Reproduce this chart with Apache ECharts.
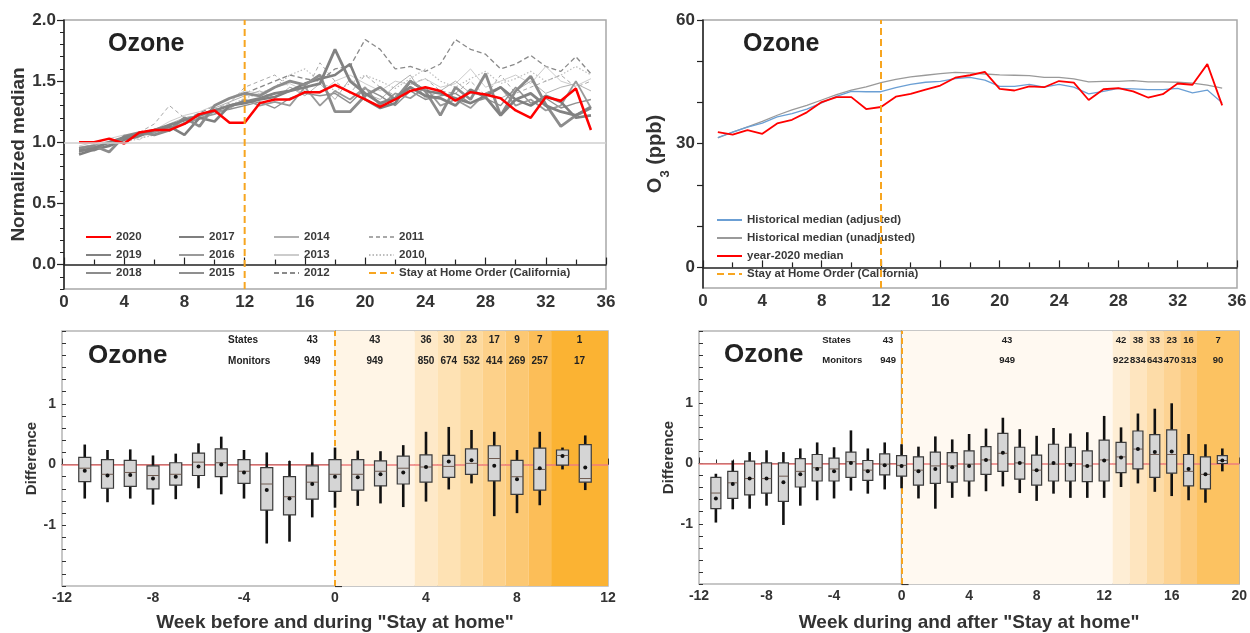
<!DOCTYPE html>
<html><head><meta charset="utf-8">
<script src="https://cdn.jsdelivr.net/npm/echarts@6/dist/echarts.min.js"></script>
<style>html,body{margin:0;padding:0;background:#fff}#c{width:1250px;height:633px}</style>
</head><body><div id="c"></div>
<script>
// ---------- DATA ----------
const weeks = [1,2,3,4,5,6,7,8,9,10,11,12,13,14,15,16,17,18,19,20,21,22,23,24,25,26,27,28,29,30,31,32,33,34,35];
const stayWeek = 12;
const norm2020 = [1.0,1.0,1.03,0.99,1.08,1.1,1.1,1.15,1.23,1.26,1.16,1.16,1.32,1.35,1.35,1.41,1.41,1.47,1.41,1.35,1.29,1.35,1.42,1.45,1.42,1.34,1.41,1.39,1.36,1.26,1.20,1.37,1.34,1.44,1.10];
const norm2019 = [0.93,0.95,1.0,1.04,1.07,1.1,1.14,1.18,1.22,1.26,1.3,1.33,1.36,1.4,1.42,1.45,1.48,1.76,1.5,1.4,1.32,1.36,1.45,1.38,1.36,1.3,1.43,1.37,1.22,1.35,1.4,1.3,1.25,1.22,1.28];
const norm2018 = [0.95,0.97,0.92,1.05,1.08,1.06,1.1,1.2,1.13,1.3,1.36,1.4,1.38,1.45,1.5,1.47,1.55,1.25,1.25,1.38,1.45,1.35,1.5,1.42,1.22,1.45,1.35,1.56,1.22,1.42,1.54,1.31,1.13,1.22,1.29];
const norm2017 = [0.9,0.94,0.97,1.02,1.05,1.1,1.13,1.06,1.2,1.17,1.3,1.32,1.35,1.37,1.42,1.48,1.52,1.55,1.64,1.35,1.28,1.32,1.5,1.42,1.4,1.36,1.32,1.38,1.45,1.35,1.3,1.38,1.33,1.2,1.22];
const norm2016 = [0.92,0.96,1.0,1.03,1.06,1.08,1.12,1.15,1.2,1.23,1.28,1.35,1.3,1.33,1.3,1.45,1.3,1.42,1.35,1.45,1.3,1.4,1.36,1.45,1.3,1.35,1.28,1.4,1.45,1.3,1.35,1.26,1.3,1.5,1.28];
const norm2015 = [0.94,0.93,0.98,1.02,1.07,1.1,1.09,1.16,1.19,1.25,1.27,1.3,1.33,1.28,1.36,1.4,1.38,1.4,1.32,1.44,1.38,1.3,1.42,1.35,1.38,1.4,1.32,1.36,1.3,1.45,1.32,1.36,1.28,1.32,1.35];
const norm2014 = [0.96,0.98,1.01,1.04,1.05,1.08,1.15,1.2,1.22,1.28,1.33,1.38,1.42,1.36,1.45,1.38,1.48,1.35,1.52,1.4,1.35,1.46,1.55,1.36,1.42,1.5,1.4,1.38,1.36,1.42,1.5,1.4,1.45,1.48,1.42];
const norm2013 = [0.97,1.0,1.03,1.06,1.02,1.1,1.17,1.22,1.25,1.3,1.36,1.42,1.4,1.45,1.48,1.42,1.4,1.5,1.55,1.48,1.42,1.5,1.47,1.52,1.45,1.48,1.6,1.45,1.5,1.55,1.48,1.62,1.5,1.46,1.52];
const norm2012 = [0.95,0.98,1.0,1.03,1.06,1.1,1.14,1.18,1.24,1.3,1.36,1.4,1.45,1.5,1.55,1.52,1.5,1.6,1.62,1.84,1.76,1.6,1.62,1.58,1.64,1.84,1.76,1.72,1.6,1.64,1.71,1.62,1.58,1.7,1.56];
const norm2011 = [0.93,0.96,0.99,1.02,1.08,1.15,1.3,1.2,1.22,1.27,1.32,1.45,1.5,1.55,1.45,1.4,1.65,1.5,1.4,1.55,1.45,1.38,1.48,1.52,1.42,1.4,1.5,1.38,1.55,1.4,1.45,1.5,1.55,1.45,1.5];
const norm2010 = [0.92,0.95,0.97,1.0,1.03,1.06,1.12,1.16,1.2,1.25,1.3,1.36,1.4,1.45,1.55,1.6,1.5,1.42,1.48,1.55,1.5,1.44,1.52,1.6,1.5,1.45,1.52,1.58,1.48,1.52,1.58,1.5,1.55,1.62,1.55];

const o3Median2020 = [32.8,32.2,33.3,32.4,34.9,35.8,37.6,40.1,41.3,41.3,38.4,38.9,41.4,42.1,43.1,44.1,46.0,46.6,47.4,43.3,42.9,43.9,43.7,45.2,44.8,40.6,43.2,43.5,42.7,41.2,42.0,44.6,44.3,49.3,39.3];
const o3HistAdjusted = [31.5,32.8,34.0,35.0,36.5,37.3,38.4,39.9,41.5,42.7,42.6,42.6,43.6,44.4,44.9,45.1,45.8,46.1,45.4,43.9,43.9,44.4,43.7,44.4,43.7,42.1,42.7,43.4,43.3,43.1,43.1,43.4,42.3,43.0,39.9];
const o3HistUnadjusted = [31.4,32.8,34.1,35.4,36.9,38.2,39.3,40.6,41.9,43.0,43.8,44.8,45.6,46.2,46.6,47.0,47.3,47.2,46.9,46.7,46.6,46.5,46.1,46.1,45.7,45.0,45.1,45.1,45.3,45.0,45.0,44.9,44.7,44.2,43.5];

const weeksBL = [-11,-10,-9,-8,-7,-6,-5,-4,-3,-2,-1,0,1,2,3,4,5,6,7,8,9,10,11];
const minBL  = [-0.56,-0.62,-0.56,-0.66,-0.57,-0.39,-0.49,-0.56,-1.30,-1.27,-0.87,-0.71,-0.68,-0.64,-0.70,-0.61,-0.41,-0.31,-0.85,-0.80,-0.67,-0.08,-0.42];
const q1BL   = [-0.28,-0.39,-0.36,-0.40,-0.34,-0.18,-0.20,-0.31,-0.75,-0.83,-0.57,-0.44,-0.42,-0.35,-0.32,-0.29,-0.21,-0.16,-0.27,-0.49,-0.42,-0.01,-0.29];
const medBL  = [-0.06,-0.16,-0.13,-0.18,-0.16,0.04,0.03,-0.11,-0.32,-0.53,-0.29,-0.16,-0.16,-0.11,-0.06,-0.04,-0.03,0.02,0.10,-0.20,-0.08,0.15,-0.23];
const q3BL   = [0.12,0.08,0.07,-0.02,0.03,0.19,0.26,0.08,-0.05,-0.20,-0.02,0.08,0.08,0.06,0.14,0.16,0.15,0.26,0.31,0.07,0.27,0.24,0.33];
const maxBL  = [0.33,0.24,0.25,0.15,0.18,0.35,0.46,0.24,0.20,0.06,0.20,0.28,0.23,0.22,0.32,0.54,0.62,0.57,0.54,0.24,0.54,0.28,0.48];
const meanBL = [-0.10,-0.18,-0.17,-0.23,-0.20,-0.03,0.00,-0.13,-0.42,-0.56,-0.32,-0.20,-0.21,-0.16,-0.13,-0.04,0.05,0.07,-0.02,-0.24,-0.06,0.14,-0.05];
const bandEdgesBL = [0,3.5,4.5,5.5,6.5,7.5,8.5,9.5,12];
const preStatesBL = 43, preMonitorsBL = 949, preWeekBL = -1;
const statesBL   = [43,36,30,23,17,9,7,1];
const monitorsBL = [949,850,674,532,414,269,257,17];

const weeksBR = [-11,-10,-9,-8,-7,-6,-5,-4,-3,-2,-1,0,1,2,3,4,5,6,7,8,9,10,11,12,13,14,15,16,17,18,19];
const minBR  = [-0.98,-0.76,-0.75,-0.70,-1.02,-0.70,-0.61,-0.58,-0.45,-0.50,-0.43,-0.41,-0.58,-0.75,-0.57,-0.55,-0.46,-0.38,-0.49,-0.62,-0.50,-0.57,-0.57,-0.57,-0.39,-0.33,-0.47,-0.54,-0.61,-0.65,-0.13];
const q1BR   = [-0.75,-0.58,-0.52,-0.49,-0.63,-0.39,-0.29,-0.29,-0.23,-0.28,-0.19,-0.21,-0.36,-0.33,-0.31,-0.29,-0.18,-0.13,-0.26,-0.36,-0.29,-0.29,-0.30,-0.29,-0.15,-0.09,-0.23,-0.16,-0.37,-0.42,0.0];
const medBR  = [-0.49,-0.32,-0.25,-0.25,-0.21,-0.13,-0.07,-0.09,0.03,-0.11,-0.01,-0.03,-0.11,-0.04,-0.04,-0.01,0.06,0.17,0.01,-0.11,-0.01,0.0,-0.04,0.06,0.11,0.24,0.15,0.15,-0.13,-0.18,0.05];
const q3BR   = [-0.23,-0.13,0.04,0.01,0.01,0.08,0.15,0.09,0.19,0.05,0.16,0.13,0.11,0.19,0.18,0.21,0.28,0.50,0.27,0.14,0.32,0.27,0.21,0.39,0.35,0.54,0.48,0.56,0.15,0.11,0.13];
const maxBR  = [-0.17,0.05,0.19,0.22,0.19,0.25,0.35,0.27,0.55,0.25,0.35,0.32,0.28,0.45,0.40,0.49,0.58,0.76,0.57,0.46,0.59,0.50,0.52,0.79,0.60,0.83,0.91,1.0,0.49,0.32,0.25];
const meanBR = [-0.58,-0.34,-0.25,-0.25,-0.31,-0.18,-0.09,-0.13,0.01,-0.13,-0.03,-0.04,-0.13,-0.09,-0.06,-0.04,0.06,0.18,0.01,-0.11,0.01,-0.02,-0.04,0.05,0.10,0.24,0.19,0.20,-0.09,-0.18,0.05];
const bandEdgesBR = [0,12.5,13.5,14.5,15.5,16.5,17.5,20];
const preStatesBR = 43, preMonitorsBR = 949, preWeekBR = -0.8;
const statesBR   = [43,42,38,33,23,16,7];
const monitorsBR = [949,922,834,643,470,313,90];

// ---------- RENDER ----------
const FONT = '"Liberation Sans", Arial, sans-serif';
const NARROW = '"Liberation Sans Narrow", "Liberation Sans", Arial, sans-serif';
const DARK = '#333';
const ORANGE = '#f7a520';
const chart = echarts.init(document.getElementById('c'), null, {renderer: 'canvas'});

function pairs(arr) { return weeks.map((w, i) => [w, arr[i]]); }
function range(a, b, s) { const r = []; for (let v = a; v <= b + 1e-9; v += s) r.push(Math.round(v*100)/100); return r; }

const yearDefs = [
  ['2010', norm2010, {color:'#bdbdbd', width:1.2, type:[1.5,2]}],
  ['2011', norm2011, {color:'#a9a9a9', width:1, type:[4,3]}],
  ['2012', norm2012, {color:'#8a8a8a', width:1.3, type:[5,3]}],
  ['2013', norm2013, {color:'#cccccc', width:1, type:'solid'}],
  ['2014', norm2014, {color:'#b0b0b0', width:1, type:'solid'}],
  ['2015', norm2015, {color:'#8f8f8f', width:1.4, type:'solid'}],
  ['2016', norm2016, {color:'#9a9a9a', width:1.8, type:'solid'}],
  ['2017', norm2017, {color:'#7f7f7f', width:2.6, type:'solid'}],
  ['2018', norm2018, {color:'#8c8c8c', width:2.8, type:'solid'}],
  ['2019', norm2019, {color:'#828282', width:2.8, type:'solid'}]
];

const series = [];
yearDefs.forEach(([name, arr, ls], idx) => {
  const s = {type:'line', name, xAxisIndex:0, yAxisIndex:0, data:pairs(arr), symbol:'none',
    lineStyle:ls, itemStyle:{color:ls.color}, z:2, animation:false};
  if (idx === 0) {
    s.markLine = {silent:true, symbol:'none', label:{show:false},
      lineStyle:{color:'#cfcfcf', width:1.5, type:'solid'}, data:[{yAxis:1}]};
  }
  series.push(s);
});
series.push({type:'line', name:'2020', xAxisIndex:0, yAxisIndex:0, data:pairs(norm2020), symbol:'none',
  lineStyle:{color:'#ff0000', width:2.5}, itemStyle:{color:'#ff0000'}, z:4, animation:false});
series.push({type:'line', name:'Stay at Home Order (California)', xAxisIndex:0, yAxisIndex:0,
  data:[[stayWeek,-0.2],[stayWeek,2.0]], symbol:'none',
  lineStyle:{color:ORANGE, width:2, type:[7,4]}, itemStyle:{color:ORANGE}, z:5, animation:false});

series.push({type:'line', name:'Historical median (unadjusted)', xAxisIndex:1, yAxisIndex:2, data:pairs(o3HistUnadjusted),
  symbol:'none', lineStyle:{color:'#9a9a9a', width:1.3}, itemStyle:{color:'#9a9a9a'}, z:2, animation:false});
series.push({type:'line', name:'Historical median (adjusted)', xAxisIndex:1, yAxisIndex:2, data:pairs(o3HistAdjusted),
  symbol:'none', lineStyle:{color:'#6b9fd4', width:1.3}, itemStyle:{color:'#6b9fd4'}, z:3, animation:false});
series.push({type:'line', name:'year-2020 median', xAxisIndex:1, yAxisIndex:2, data:pairs(o3Median2020),
  symbol:'none', lineStyle:{color:'#ff0000', width:1.8}, itemStyle:{color:'#ff0000'}, z:4, animation:false});
series.push({type:'line', name:'Stay at Home Order (California)', xAxisIndex:1, yAxisIndex:2,
  data:[[stayWeek,-5],[stayWeek,60]], symbol:'none',
  lineStyle:{color:ORANGE, width:2, type:[7,4]}, itemStyle:{color:ORANGE}, z:5, animation:false});

function bandSeries(xi, yi, edges, colors) {
  const areas = [];
  for (let i = 0; i < edges.length - 1; i++) {
    areas.push([{xAxis:edges[i], yAxis:-2, itemStyle:{color:colors[i]}}, {xAxis:edges[i+1], yAxis:2.2}]);
  }
  return {type:'line', xAxisIndex:xi, yAxisIndex:yi, data:[], z:1, animation:false, silent:true,
    markArea:{silent:true, data:areas},
    markLine:{silent:true, symbol:'none', label:{show:false}, animation:false, data:[
      {xAxis:0, lineStyle:{color:ORANGE, width:2, type:[6,4]}},
      {yAxis:0, lineStyle:{color:'#ee7c7c', width:1.5, type:'solid'}}
    ]}};
}
function boxSeries(xi, yi, wk, mn, q1, md, q3, mx, mean, bw) {
  return {type:'custom', xAxisIndex:xi, yAxisIndex:yi, z:5, animation:false,
    data: wk.map((w,i)=>[w, mn[i], q1[i], md[i], q3[i], mx[i], mean[i]]),
    encode:{x:0, y:[1,2,3,4,5,6]},
    renderItem(params, api) {
      const x = api.value(0);
      const pLo = api.coord([x, api.value(1)]);
      const pQ1 = api.coord([x, api.value(2)]);
      const pMd = api.coord([x, api.value(3)]);
      const pQ3 = api.coord([x, api.value(4)]);
      const pHi = api.coord([x, api.value(5)]);
      const pMn = api.coord([x, api.value(6)]);
      const cx = pLo[0];
      return {type:'group', children:[
        {type:'line', shape:{x1:cx, y1:pLo[1], x2:cx, y2:pHi[1]}, style:{stroke:'#111', lineWidth:2.6}},
        {type:'rect', shape:{x:cx-bw/2, y:pQ3[1], width:bw, height:pQ1[1]-pQ3[1]},
          style:{fill:'#d5d5d5', stroke:'#3a3a3a', lineWidth:1.2}},
        {type:'line', shape:{x1:cx-bw/2, y1:pMd[1], x2:cx+bw/2, y2:pMd[1]}, style:{stroke:'#6e5a50', lineWidth:1}},
        {type:'circle', shape:{cx:cx, cy:pMn[1], r:2}, style:{fill:'#111'}}
      ]};
    }};
}
function headerSeries(xi, yi, edges, states, monitors, preW, preS, preM, fs) {
  const items = [];
  items.push({x:-4.7, y:2.05, t:'States', align:'left'});
  items.push({x:-4.7, y:1.71, t:'Monitors', align:'left'});
  items.push({x:preW, y:2.05, t:String(preS), align:'center'});
  items.push({x:preW, y:1.71, t:String(preM), align:'center'});
  for (let i = 0; i < states.length; i++) {
    const c = (edges[i] + edges[i+1]) / 2;
    items.push({x:c, y:2.05, t:String(states[i]), align:'center'});
    items.push({x:c, y:1.71, t:String(monitors[i]), align:'center'});
  }
  return {type:'custom', xAxisIndex:xi, yAxisIndex:yi, z:6, animation:false, silent:true,
    data: items.map(it => [it.x, it.y]),
    renderItem(params, api) {
      const it = items[params.dataIndex];
      const p = api.coord([api.value(0), api.value(1)]);
      return {type:'text', x:p[0], y:p[1], style:{text:it.t, fill:'#222', align:it.align, verticalAlign:'middle',
        font:'bold ' + fs + 'px ' + FONT}};
    }};
}
series.push(bandSeries(2, 3, bandEdgesBL, ['#fff5e6','#fee9c8','#fee2b4','#fdda9f','#fdd18a','#fcc873','#fcbe58','#fbb333']));
series.push(boxSeries(2, 3, weeksBL, minBL, q1BL, medBL, q3BL, maxBL, meanBL, 12));
series.push(headerSeries(2, 3, bandEdgesBL, statesBL, monitorsBL, preWeekBL, preStatesBL, preMonitorsBL, 10));
series.push(bandSeries(3, 5, bandEdgesBR, ['#fff9f1','#feeed5','#fee5bf','#fddca8','#fdd393','#fcca7c','#fcc261']));
series.push(boxSeries(3, 5, weeksBR, minBR, q1BR, medBR, q3BR, maxBR, meanBR, 10));
series.push(headerSeries(3, 5, bandEdgesBR, statesBR, monitorsBR, preWeekBR, preStatesBR, preMonitorsBR, 9.5));

const lblTop = {fontSize:17, fontWeight:'bold', color:DARK, fontFamily:FONT};
const lblBot = {fontSize:14, fontWeight:'bold', color:DARK, fontFamily:NARROW};
const axLine = {show:true, lineStyle:{color:'#222', width:1.5}};
const axLineGray = {show:true, lineStyle:{color:'#555', width:1.2}};

const option = {
  backgroundColor:'#fff',
  animation:false,
  grid:[
    {left:64, top:20, width:542, height:269, show:true, borderColor:'#a8a8a8', borderWidth:1.5, backgroundColor:'transparent'},
    {left:703, top:20, width:534, height:268, show:true, borderColor:'#a8a8a8', borderWidth:1.5, backgroundColor:'transparent'},
    {left:62, top:331, width:546, height:261, show:true, borderColor:'#b5b5b5', borderWidth:1.5, backgroundColor:'transparent'},
    {left:699, top:331, width:541, height:261, show:true, borderColor:'#b5b5b5', borderWidth:1.5, backgroundColor:'transparent'}
  ],
  xAxis:[
    {gridIndex:0, type:'value', min:0, max:36, interval:4, axisLine:axLine,
      axisTick:{inside:true, length:7, lineStyle:{color:'#222', width:1.2}},
      minorTick:{show:true, splitNumber:2, length:5, lineStyle:{color:'#222', width:1.2}},
      axisLabel:Object.assign({margin:5}, lblTop), splitLine:{show:false}},
    {gridIndex:1, type:'value', min:0, max:36, interval:4, axisLine:axLine,
      axisTick:{inside:true, length:7, lineStyle:{color:'#222', width:1.2}},
      minorTick:{show:true, splitNumber:2, length:5, lineStyle:{color:'#222', width:1.2}},
      axisLabel:Object.assign({margin:5}, lblTop), splitLine:{show:false}},
    {gridIndex:2, type:'value', min:-12, max:12, interval:4, axisLine:axLineGray,
      axisTick:{inside:true, length:6, lineStyle:{color:'#333'}},
      minorTick:{show:true, splitNumber:4, length:4, lineStyle:{color:'#333'}},
      axisLabel:Object.assign({margin:5}, lblBot), splitLine:{show:false},
      name:'Week before and during "Stay at home"', nameLocation:'middle', nameGap:27,
      nameTextStyle:{fontSize:19, fontWeight:'bold', color:DARK, fontFamily:FONT}},
    {gridIndex:3, type:'value', min:-12, max:20, interval:4, axisLine:axLineGray,
      axisTick:{inside:true, length:6, lineStyle:{color:'#333'}},
      minorTick:{show:true, splitNumber:4, length:4, lineStyle:{color:'#333'}},
      axisLabel:Object.assign({margin:5}, lblBot), splitLine:{show:false},
      name:'Week during and after "Stay at home"', nameLocation:'middle', nameGap:29,
      nameTextStyle:{fontSize:19, fontWeight:'bold', color:DARK, fontFamily:FONT}}
  ],
  yAxis:[
    {gridIndex:0, type:'value', min:-0.2, max:2.0, axisLine:axLine,
      axisTick:{customValues:[0,0.5,1,1.5,2], length:7, lineStyle:{color:'#222', width:1.2}},
      axisLabel:Object.assign({customValues:[0,0.5,1,1.5,2], formatter:v=>v.toFixed(1), margin:8}, lblTop),
      splitLine:{show:false},
      name:'Normalized median', nameLocation:'middle', nameGap:35,
      nameTextStyle:{fontSize:19, fontWeight:'bold', color:DARK, fontFamily:FONT}},
    {gridIndex:0, type:'value', min:-0.2, max:2.0, position:'left', axisLine:{show:false},
      axisTick:{customValues:range(-0.2,2.0,0.1), length:4, lineStyle:{color:'#222', width:1}},
      axisLabel:{show:false}, splitLine:{show:false}},
    {gridIndex:1, type:'value', min:-5, max:60, axisLine:axLine,
      axisTick:{customValues:[0,10,20,30,40,50,60], length:6, lineStyle:{color:'#222', width:1.2}},
      axisLabel:Object.assign({customValues:[0,30,60], margin:8}, lblTop),
      splitLine:{show:false},
      name:'{a|O}{b|3}{a| (ppb)}', nameLocation:'middle', nameGap:34,
      nameTextStyle:{color:DARK, rich:{
        a:{fontSize:20, fontWeight:'bold', color:DARK, fontFamily:FONT, lineHeight:24},
        b:{fontSize:13, fontWeight:'bold', color:DARK, fontFamily:FONT, verticalAlign:'bottom', lineHeight:14, padding:[0,0,-5,0]}
      }}},
    {gridIndex:2, type:'value', min:-2, max:2.2, axisLine:axLineGray,
      axisTick:{inside:true, customValues:[-2,-1,0,1,2], length:7, lineStyle:{color:'#333', width:1.2}},
      axisLabel:Object.assign({customValues:[-1,0,1], margin:6}, lblBot),
      splitLine:{show:false},
      name:'Difference', nameLocation:'middle', nameGap:17,
      nameTextStyle:{fontSize:15, fontWeight:'bold', color:DARK, fontFamily:FONT}},
    {gridIndex:2, type:'value', min:-2, max:2.2, position:'left', axisLine:{show:false},
      axisTick:{inside:true, customValues:range(-2,2.2,0.2), length:4, lineStyle:{color:'#333', width:1}},
      axisLabel:{show:false}, splitLine:{show:false}},
    {gridIndex:3, type:'value', min:-2, max:2.2, axisLine:axLineGray,
      axisTick:{inside:true, customValues:[-2,-1,0,1,2], length:7, lineStyle:{color:'#333', width:1.2}},
      axisLabel:Object.assign({customValues:[-1,0,1], margin:6}, lblBot),
      splitLine:{show:false},
      name:'Difference', nameLocation:'middle', nameGap:23,
      nameTextStyle:{fontSize:15, fontWeight:'bold', color:DARK, fontFamily:FONT}},
    {gridIndex:3, type:'value', min:-2, max:2.2, position:'left', axisLine:{show:false},
      axisTick:{inside:true, customValues:range(-2,2.2,0.2), length:4, lineStyle:{color:'#333', width:1}},
      axisLabel:{show:false}, splitLine:{show:false}}
  ],
  legend:[
    {data:['2020','2019','2018'], orient:'vertical', left:80, top:226},
    {data:['2017','2016','2015'], orient:'vertical', left:173, top:226},
    {data:['2014','2013','2012'], orient:'vertical', left:268, top:226},
    {data:['2011','2010','Stay at Home Order (California)'], orient:'vertical', left:363, top:226},
    {data:['Historical median (adjusted)','Historical median (unadjusted)','year-2020 median','Stay at Home Order (California)'],
      orient:'vertical', left:711, top:209}
  ].map(l => Object.assign({itemWidth:25, itemHeight:12, itemGap:6, selectedMode:false,
      itemStyle:{opacity:0},
      textStyle:{fontSize:11.5, fontWeight:'bold', color:'#3a3a3a', fontFamily:FONT}}, l)),
  graphic:[
    {type:'text', x:108, y:44, style:{text:'Ozone', font:'bold 25px ' + FONT, fill:'#222', verticalAlign:'middle'}},
    {type:'text', x:743, y:44, style:{text:'Ozone', font:'bold 25px ' + FONT, fill:'#222', verticalAlign:'middle'}},
    {type:'text', x:88, y:356, style:{text:'Ozone', font:'bold 26px ' + FONT, fill:'#222', verticalAlign:'middle'}},
    {type:'text', x:724, y:355, style:{text:'Ozone', font:'bold 26px ' + FONT, fill:'#222', verticalAlign:'middle'}}
  ],
  series
};
chart.setOption(option);
</script></body></html>
